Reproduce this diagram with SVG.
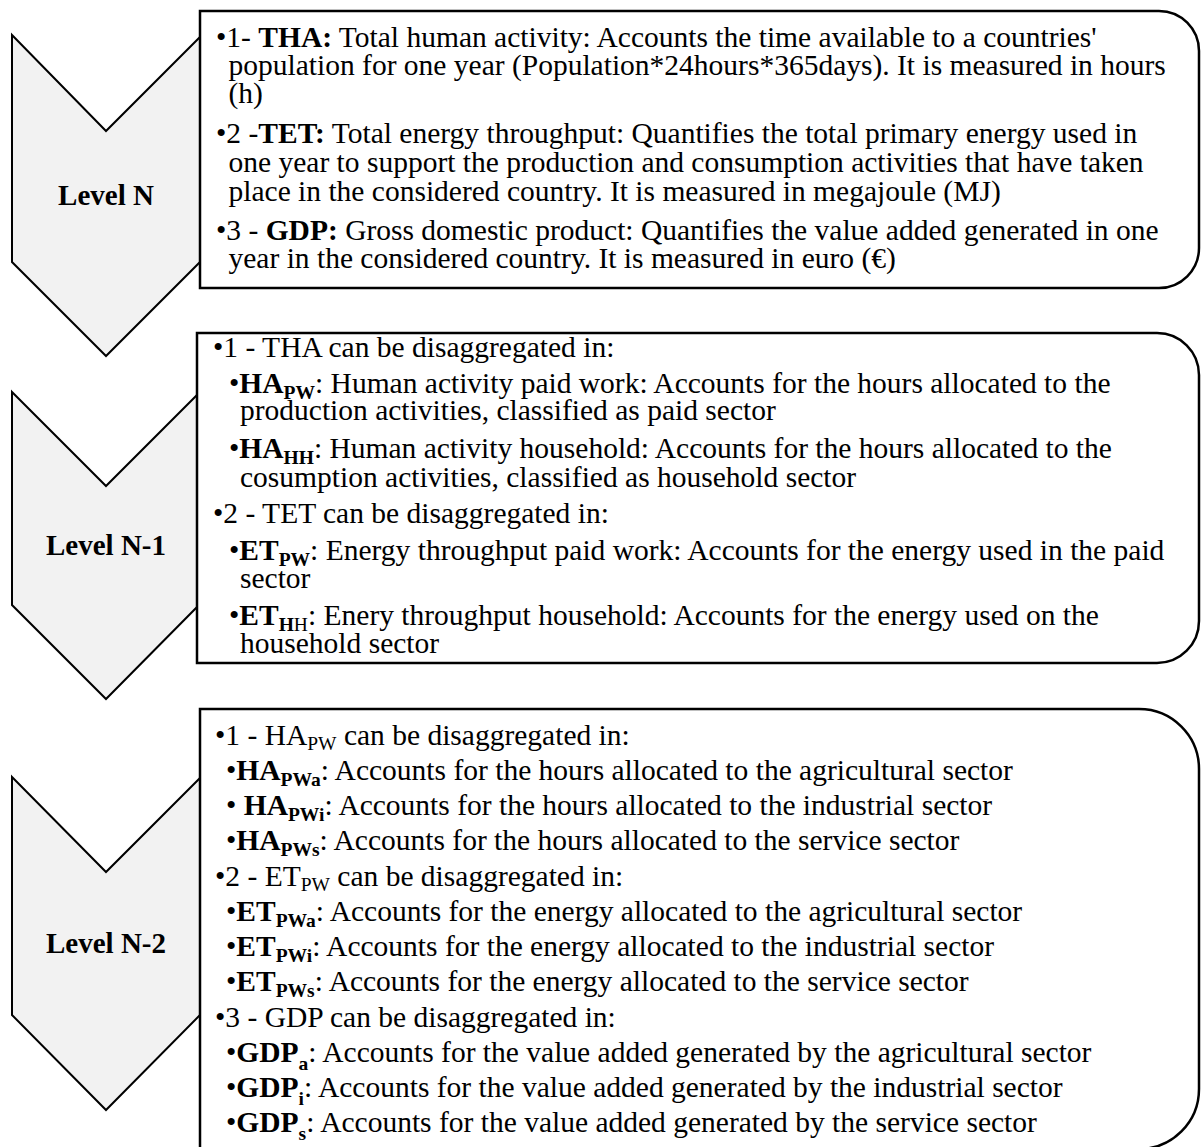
<svg xmlns="http://www.w3.org/2000/svg" width="1201" height="1147" viewBox="0 0 1201 1147" font-family="Liberation Serif, Times New Roman, Times, serif">
<style>
.chev{fill:#f2f2f2;stroke:#000;stroke-width:2;stroke-linejoin:miter}
.box{fill:#fff;stroke:#000;stroke-width:2.5}
text{font-size:29.5px;fill:#000}
.lvl{font-weight:bold;text-anchor:middle;font-size:29px}
.b{font-weight:bold}
.s{font-size:19.5px}
</style>
<rect width="1201" height="1147" fill="#fff"/>
<g id="level-n-chevron">
<polygon class="chev" points="12,35 106,131 200,37 200,262 106,356 12,262"/>
<text class="lvl" x="106" y="205">Level N</text>
</g>
<g id="level-n1-chevron">
<polygon class="chev" points="12,392 106,486 199,393 199,605 106,699 12,605"/>
<text class="lvl" x="106" y="555">Level N-1</text>
</g>
<g id="level-n2-chevron">
<polygon class="chev" points="12,777 106,872 200,778 200,1015 106,1110 12,1015"/>
<text class="lvl" x="106" y="953">Level N-2</text>
</g>
<g id="connectors"/>
<g id="level-n-box">
<path class="box" d="M200,11 H1159 A40,40 0 0 1 1199,51 V248 A40,40 0 0 1 1159,288 H200 Z"/>
<text x="216" y="47">•1- <tspan class="b">THA:</tspan> Total human activity: Accounts the time available to a countries'</text>
<text x="228.5" y="75">population for one year (Population*24hours*365days). It is measured in hours</text>
<text x="228.5" y="103">(h)</text>
<text x="216" y="143">•2 -<tspan class="b">TET:</tspan> Total energy throughput: Quantifies the total primary energy used in</text>
<text x="228.5" y="172">one year to support the production and consumption activities that have taken</text>
<text x="228.5" y="201">place in the considered country. It is measured in megajoule (MJ)</text>
<text x="216" y="240">•3 - <tspan class="b">GDP:</tspan> Gross domestic product: Quantifies the value added generated in one</text>
<text x="228.5" y="268">year in the considered country. It is measured in euro (€)</text>
</g>
<g id="level-n1-box">
<path class="box" d="M197,333 H1157 A42,42 0 0 1 1199,375 V621 A42,42 0 0 1 1157,663 H197 Z"/>
<text x="213" y="357">•1 - THA can be disaggregated in:</text>
<text x="229" y="393">•<tspan class="b">HA</tspan><tspan class="b s" dy="6">PW</tspan><tspan dy="-6">: Human activity paid work: Accounts for the hours allocated to the</tspan></text>
<text x="240" y="420">production activities, classified as paid sector</text>
<text x="229" y="458">•<tspan class="b">HA</tspan><tspan class="b s" dy="6">HH</tspan><tspan dy="-6">: Human activity household: Accounts for the hours allocated to the</tspan></text>
<text x="240" y="487">cosumption activities, classified as household sector</text>
<text x="213" y="523">•2 - TET can be disaggregated in:</text>
<text x="229" y="560">•<tspan class="b">ET</tspan><tspan class="b s" dy="6">PW</tspan><tspan dy="-6">: Energy throughput paid work: Accounts for the energy used in the paid</tspan></text>
<text x="240" y="588">sector</text>
<text x="229" y="625">•<tspan class="b">ET</tspan><tspan class="b s" dy="6">H</tspan><tspan class="s">H</tspan><tspan dy="-6">: Enery throughput household: Accounts for the energy used on the</tspan></text>
<text x="240" y="653">household sector</text>
</g>
<g id="level-n2-box">
<path class="box" d="M200,709 H1139 A60,60 0 0 1 1199,769 V1089 A60,60 0 0 1 1139,1149 H200 Z"/>
<text x="215" y="745">•1 - HA<tspan class="s" dy="5">PW</tspan><tspan dy="-5"> can be disaggregated in:</tspan></text>
<text x="226" y="780">•<tspan class="b">HA</tspan><tspan class="b s" dy="6">PWa</tspan><tspan dy="-6">: Accounts for the hours allocated to the agricultural sector</tspan></text>
<text x="226" y="815">• <tspan class="b">HA</tspan><tspan class="b s" dy="6">PWi</tspan><tspan dy="-6">: Accounts for the hours allocated to the industrial sector</tspan></text>
<text x="226" y="850">•<tspan class="b">HA</tspan><tspan class="b s" dy="6">PWs</tspan><tspan dy="-6">: Accounts for the hours allocated to the service sector</tspan></text>
<text x="215" y="886">•2 - ET<tspan class="s" dy="5">PW</tspan><tspan dy="-5"> can be disaggregated in:</tspan></text>
<text x="226" y="921">•<tspan class="b">ET</tspan><tspan class="b s" dy="6">PWa</tspan><tspan dy="-6">: Accounts for the energy allocated to the agricultural sector</tspan></text>
<text x="226" y="956">•<tspan class="b">ET</tspan><tspan class="b s" dy="6">PWi</tspan><tspan dy="-6">: Accounts for the energy allocated to the industrial sector</tspan></text>
<text x="226" y="991">•<tspan class="b">ET</tspan><tspan class="b s" dy="6">PWs</tspan><tspan dy="-6">: Accounts for the energy allocated to the service sector</tspan></text>
<text x="215" y="1027">•3 - GDP can be disaggregated in:</text>
<text x="226" y="1062">•<tspan class="b">GDP</tspan><tspan class="b s" dy="8">a</tspan><tspan dy="-8">: Accounts for the value added generated by the agricultural sector</tspan></text>
<text x="226" y="1097">•<tspan class="b">GDP</tspan><tspan class="b s" dy="8">i</tspan><tspan dy="-8">: Accounts for the value added generated by the industrial sector</tspan></text>
<text x="226" y="1132">•<tspan class="b">GDP</tspan><tspan class="b s" dy="8">s</tspan><tspan dy="-8">: Accounts for the value added generated by the service sector</tspan></text>
</g>
</svg>
